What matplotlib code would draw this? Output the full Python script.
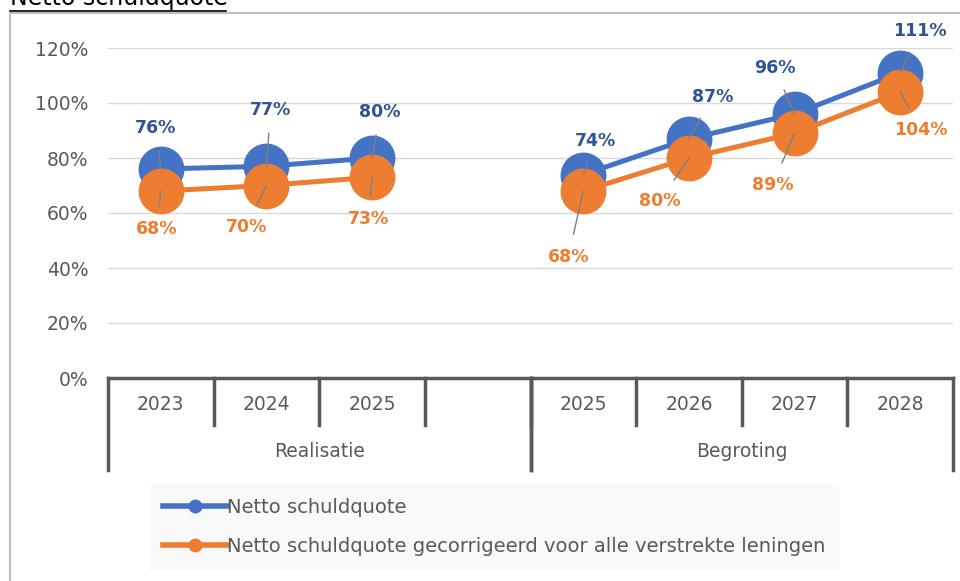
# Netto schuldquote: realisatie vs begroting
import matplotlib.pyplot as plt
import numpy as np
from matplotlib.lines import Line2D

years = ['2023', '2024', '2025', '', '2025', '2026', '2027', '2028']
groups = ['Realisatie', 'Begroting']
group_sizes = [4, 4]

netto = [76, 77, 80, np.nan, 74, 87, 96, 111]
gecorr = [68, 70, 73, np.nan, 68, 80, 89, 104]

series_names = ['Netto schuldquote',
                'Netto schuldquote gecorrigeerd voor alle verstrekte leningen']

# label offsets (in pixels) for the data labels
off_blue = [(-5, 41), (4, 56), (8, 46), (12, 34), (24, 42), (-20, 46), (20, 42)]
off_orange = [(-4, -38), (-20, -41), (-4, -42), (-15, -66), (-29, -43), (-22, -52), (21, -38)]

blue = '#4472C4'
orange = '#ED7D31'
blue_txt = '#2F5597'
grey = '#595959'

plt.rcParams['font.family'] = 'DejaVu Sans'

fig = plt.figure(figsize=(9.6, 5.81), dpi=100)
ax = fig.add_axes([108/960, 203/581, 845/960, 330/581])

x = np.arange(len(years))
ax.plot(x, netto, color=blue, lw=3.6, marker='o', ms=32, zorder=3)
ax.plot(x, gecorr, color=orange, lw=3.6, marker='o', ms=32, zorder=4)

ax.set_xlim(-0.5, len(years) - 0.5)
ax.set_ylim(0, 120)
ax.set_yticks(range(0, 121, 20))
ax.set_yticklabels([f'{v}%' for v in range(0, 121, 20)], color=grey, fontsize=13.5)
ax.tick_params(axis='y', length=0, pad=14)
ax.set_xticks([])
ax.grid(axis='y', color='#d9d9d9', lw=1)
ax.set_axisbelow(True)
for s in ['top', 'right', 'left']:
    ax.spines[s].set_visible(False)
ax.spines['bottom'].set_color(grey)
ax.spines['bottom'].set_linewidth(2.5)

# data labels with leader lines
def put_labels(vals, offs, col, z):
    pts = [(i, v) for i, v in enumerate(vals) if not np.isnan(v)]
    for (i, v), (dx, dy) in zip(pts, offs):
        ax.annotate(f'{v:.0f}%', (i, v), xytext=(dx, dy), textcoords='offset pixels',
                    ha='center', va='center', fontsize=12.5, fontweight='bold', color=col,
                    arrowprops=dict(arrowstyle='-', color='#7f7f7f', lw=1, shrinkA=8, shrinkB=0),
                    annotation_clip=False, zorder=z)

put_labels(netto, off_blue, blue_txt, 6)
put_labels(gecorr, off_orange, orange, 6)

# multi-level category axis
trans = ax.get_xaxis_transform()
for i, yr in enumerate(years):
    ax.text(i, -0.079, yr, transform=trans, ha='center', va='center', color=grey, fontsize=13.5)
for b in range(1, len(years)):
    ax.plot([b - 0.5, b - 0.5], [0, -0.142], transform=trans, color=grey, lw=2.5, clip_on=False)
start = 0
for g, n in zip(groups, group_sizes):
    for edge in (start - 0.5, start + n - 0.5):
        ax.plot([edge, edge], [0, -0.279], transform=trans, color=grey, lw=2.5, clip_on=False)
    ax.text(start + (n - 1) / 2, -0.224, g, transform=trans, ha='center', va='center',
            color=grey, fontsize=13.5)
    start += n

# legend
handles = [Line2D([0], [0], color=c, lw=4, marker='o', ms=9) for c in (blue, orange)]
leg = fig.legend(handles, series_names, loc='upper left', bbox_to_anchor=(150/960, 1 - 485/581),
                 frameon=True, fontsize=14, handlelength=3.3, handletextpad=0.0,
                 labelspacing=1.05, borderpad=0.65, borderaxespad=0, labelcolor=grey)
leg.get_frame().set_facecolor('#f8f8f8')
leg.get_frame().set_edgecolor('#f8f8f8')
leg.get_frame().set_boxstyle('square', pad=0)

# chart frame and cut-off title
fig.add_artist(Line2D([10/960, 1], [1 - 13/581] * 2, color='#bfbfbf', lw=1.5))
fig.add_artist(Line2D([10/960] * 2, [0, 1 - 13/581], color='#bfbfbf', lw=1.5))
fig.text(10/960, 1 - 5/581, 'Netto schuldquote', fontsize=17, color='black', va='baseline')
fig.add_artist(Line2D([10/960, 226/960], [1 - 11/581] * 2, color='black', lw=1.2))

fig.savefig('out.png', dpi=100)
